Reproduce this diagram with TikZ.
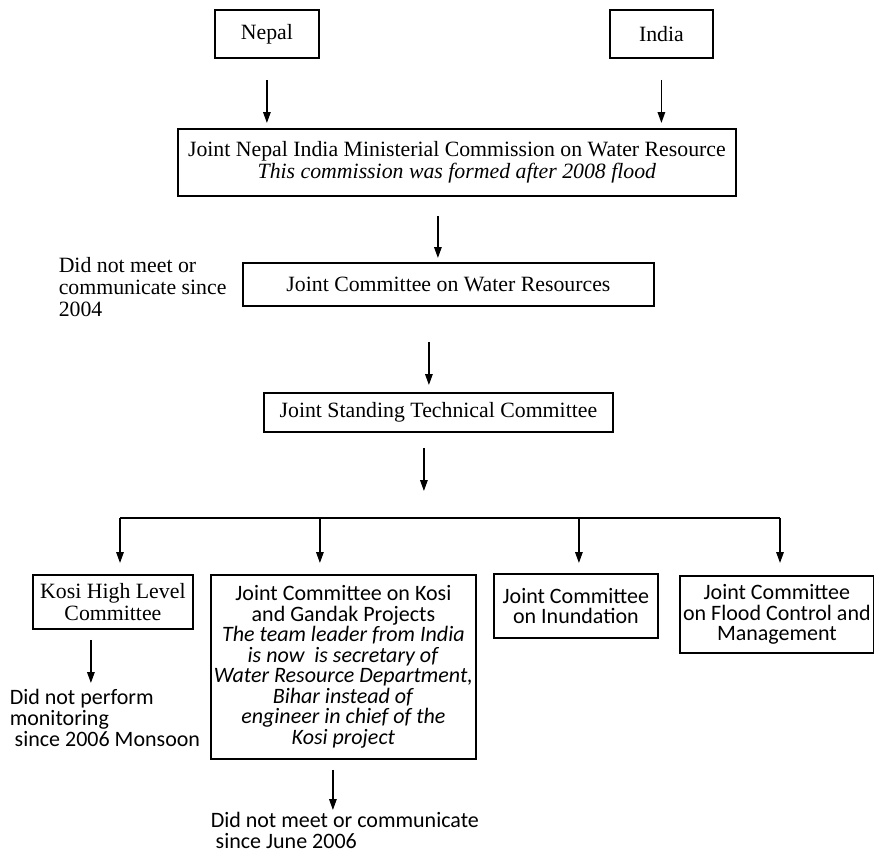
\documentclass[tikz,border=0pt]{standalone}
\usepackage{fontspec}
\setmainfont{Liberation Serif}
\newfontfamily\calfont{Carlito}
\usetikzlibrary{arrows.meta,positioning,calc}
\tikzset{
  org/.style={font=\fontsize{21.8}{22}\selectfont,
    text=black, line width=1.5pt, >={Triangle[length=11pt,width=7.5pt]}},
  orgbox/.style={draw,line width=1.8pt,inner sep=2pt,align=center,
    anchor=north west},
  orgsans/.style={orgbox,font=\calfont\fontsize{22}{20.5}\selectfont},
  remark/.style={inner sep=0pt,align=left,anchor=north west},
  remarksans/.style={remark,font=\calfont\fontsize{22}{21}\selectfont},
  flow/.style={->,draw=black,line width=1.5pt},
}

\begin{document}
\begin{tikzpicture}[org,x=1pt,y=1pt]
  % Page of 874 x 854 px, one unit per pixel.
  \path[use as bounding box,fill=white] (0,0) rectangle (874,-854);

  % ---------------- the two countries ----------------
  \node[orgbox,minimum width=104pt,minimum height=48pt] (nepal) at (214,-9) {Nepal};
  \node[orgbox,minimum width=103pt,minimum height=48pt] (india) at (609,-9) {India};

  % ---------------- ministerial level ----------------
  \node[orgbox,minimum width=558pt,minimum height=67pt] (commission) at (177,-128)
    {Joint Nepal India Ministerial Commission on Water Resource\\
     \textit{This commission was formed after 2008 flood}};
  \draw[flow,shorten <=21pt,shorten >=5pt] (nepal.south) -- (nepal.south |- commission.north);
  \draw[flow,shorten <=21pt,shorten >=5pt] (india.south) -- (india.south |- commission.north);

  \node[orgbox,minimum width=411pt,minimum height=43pt] (waterres) at (242,-262)
    {Joint Committee on Water Resources};
  \draw[flow,shorten <=19pt,shorten >=4pt]
    ([xshift=-10.5pt]waterres.north |- commission.south) -- ([xshift=-10.5pt]waterres.north);
  \node[remark] (nomeet) at (58,-257)
    {Did not meet or\\communicate since\\2004};

  \node[orgbox,minimum width=349pt,minimum height=39pt] (technical) at (263,-392)
    {Joint Standing Technical Committee};
  \draw[flow,shorten <=35pt,shorten >=7pt]
    ([xshift=-9.5pt]technical.north |- waterres.south) -- ([xshift=-9.5pt]technical.north);

  % ---------------- the four committees ----------------
  \coordinate (busleft) at (120,-518);
  \coordinate (busright) at (780,-518);
  \draw[flow,shorten <=15pt,shorten >=27pt]
    ([xshift=-14.5pt]technical.south) -- ([xshift=-14.5pt]technical.south |- busleft);
  \draw[line width=2pt] (busleft) -- (busright);

  \node[orgbox,minimum width=160pt,minimum height=54pt] (kosihigh) at (32,-574)
    {Kosi High Level\\Committee};
  \node[orgsans,minimum width=265pt,minimum height=184pt] (kosigandak) at (210,-574)
    {Joint Committee on Kosi\\and Gandak Projects\\
     \textit{The team leader from India}\\
     \textit{is now\ \ is secretary of}\\
     \textit{Water Resource Department,}\\
     \textit{Bihar instead of}\\
     \textit{engineer in chief of the}\\
     \textit{Kosi project}};
  \node[orgsans,minimum width=164pt,minimum height=64pt] (inundation) at (493,-573)
    {Joint Committee\\on Inundation};
  \node[orgsans,minimum width=194pt,minimum height=77pt] (flood) at (679,-575)
    {Joint Committee\\on Flood Control and\\Management};

  \draw[flow,shorten >=11pt] (busleft) -- (busleft |- kosihigh.north);
  \draw[flow,shorten >=11pt]
    ([xshift=-23.5pt]kosigandak.north |- busleft) -- ([xshift=-23.5pt]kosigandak.north);
  \draw[flow,shorten >=10pt]
    ([xshift=3pt]inundation.north |- busleft) -- ([xshift=3pt]inundation.north);
  \draw[flow,shorten >=12pt] (busright) -- (busright |- flood.north);

  % ---------------- notes under the committees ----------------
  \node[remarksans] (nomonitor) at (9,-688)
    {Did not perform\\monitoring\\\ since 2006 Monsoon};
  \draw[flow,shorten <=10pt,shorten >=5pt]
    ([xshift=-22pt]kosihigh.south) -- ([xshift=-22pt]kosihigh.south |- nomonitor.north);

  \node[remarksans] (nocontact) at (210,-811)
    {Did not meet or communicate\\\ since June 2006};
  \draw[flow,shorten <=10pt,shorten >=1pt]
    ([xshift=-10.5pt]kosigandak.south) -- ([xshift=-10.5pt]kosigandak.south |- nocontact.north);
\end{tikzpicture}
\end{document}
